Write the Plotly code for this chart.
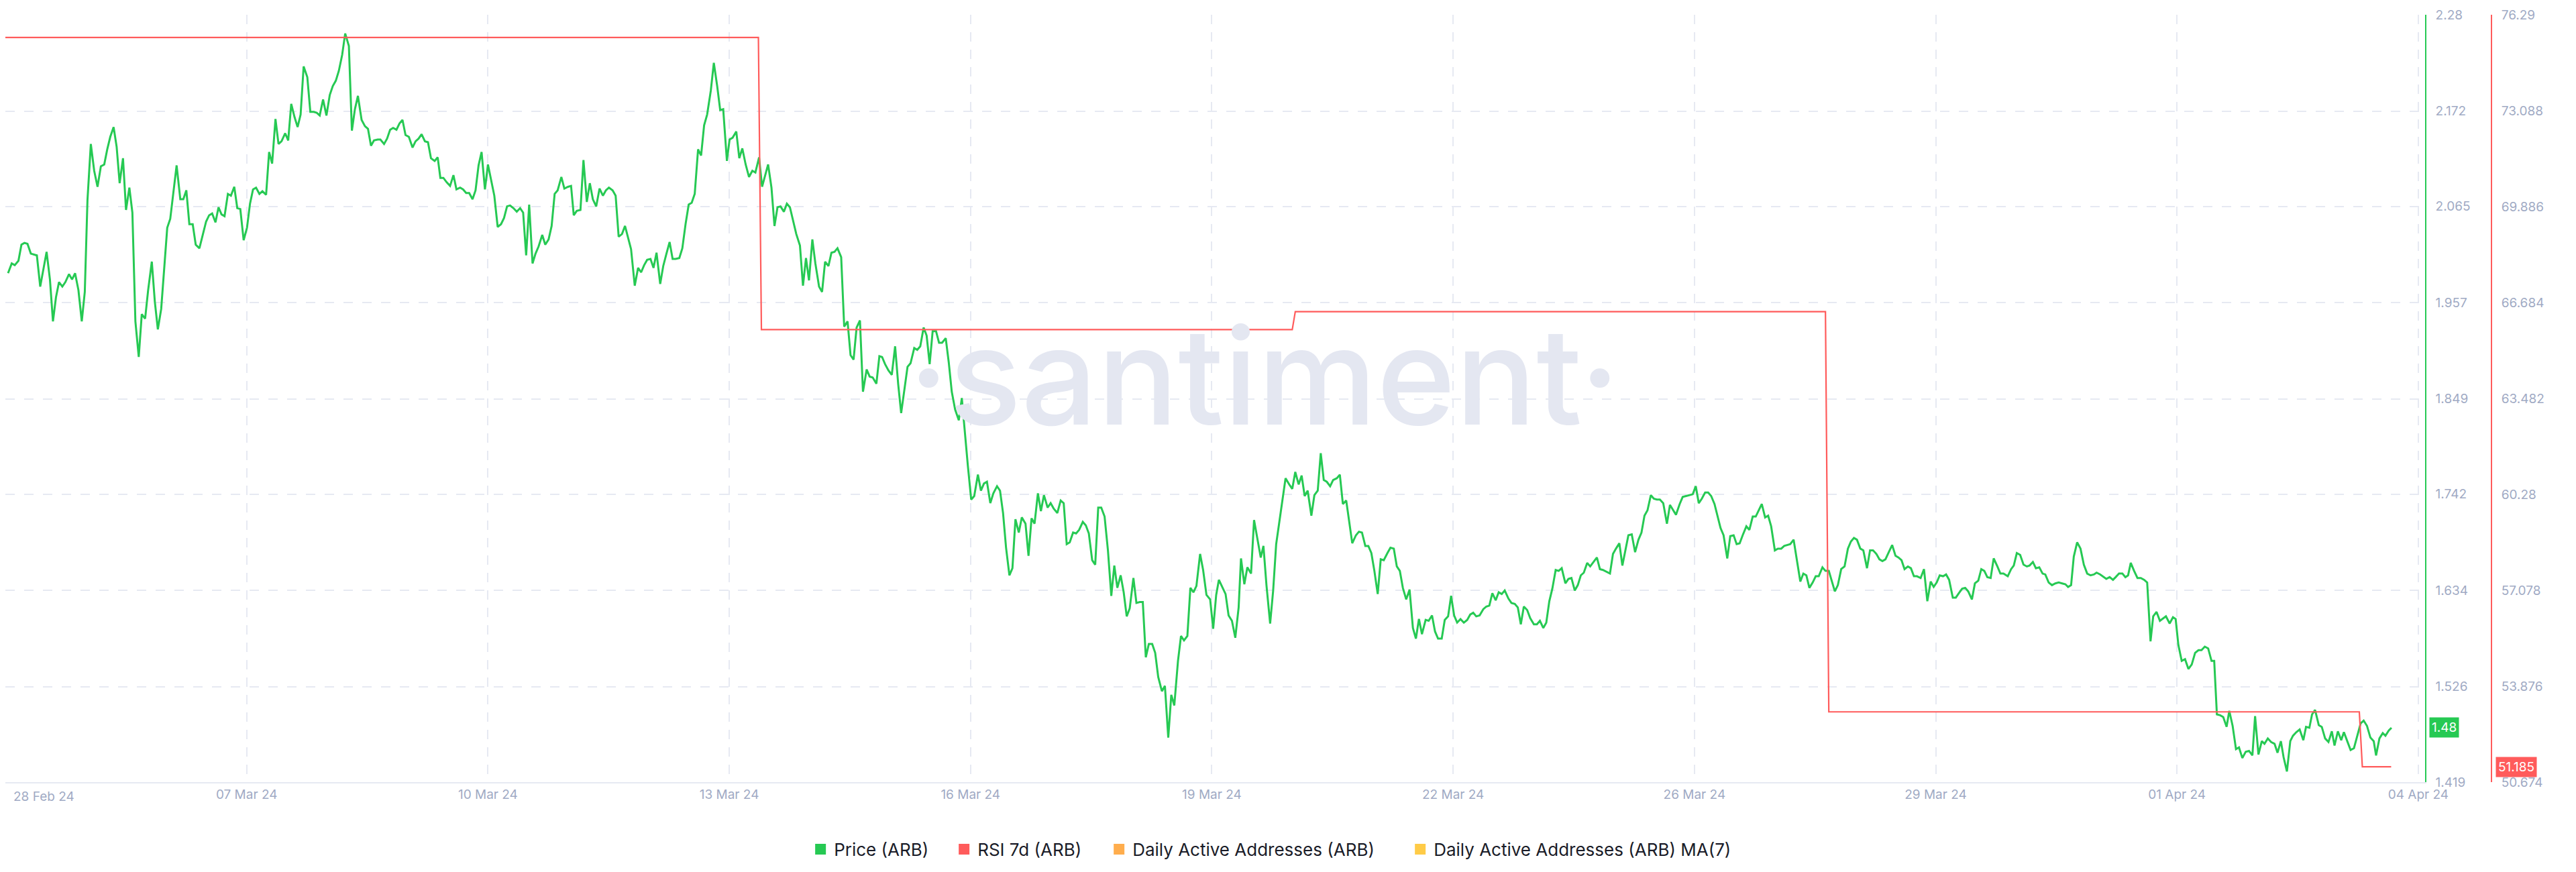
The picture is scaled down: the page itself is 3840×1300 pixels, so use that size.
import plotly.graph_objects as go

# ---------------- data ----------------
x_tick_hours = [0, 72, 144, 216, 288, 360, 432, 504, 576, 648, 720]
x_tick_labels = ["28 Feb 24", "07 Mar 24", "10 Mar 24", "13 Mar 24", "16 Mar 24", "19 Mar 24",
                 "22 Mar 24", "26 Mar 24", "29 Mar 24", "01 Apr 24", "04 Apr 24"]

price_ticks = [2.28, 2.172, 2.065, 1.957, 1.849, 1.742, 1.634, 1.526, 1.419]
rsi_ticks = [76.29, 73.088, 69.886, 66.684, 63.482, 60.28, 57.078, 53.876, 50.674]

price_hours = [
    0.8, 1.9, 2.8, 3.9, 4.8, 5.7, 6.6, 7.6, 9.4, 10.4, 12.3, 13.3, 14.2, 15.1, 16.0, 17.0, 17.9, 19.0, 19.9, 20.8,
    21.8, 22.8, 23.7, 24.5, 25.5, 26.5, 27.5, 28.5, 29.5, 30.4, 31.3, 32.3, 33.2, 34.1, 35.1, 36.0, 37.0, 37.9, 38.8, 39.8,
    40.7, 41.7, 42.6, 43.7, 44.6, 45.5, 46.5, 47.4, 48.3, 49.2, 50.2, 51.1, 52.2, 53.1, 54.0, 54.9, 55.9, 56.8, 57.9, 58.8,
    59.9, 60.8, 61.7, 62.7, 63.6, 64.5, 65.4, 66.4, 67.3, 68.3, 69.2, 70.1, 71.1, 72.1, 73.0, 73.9, 74.8, 75.8, 76.7, 77.8,
    78.7, 79.6, 80.6, 81.5, 82.4, 83.5, 84.4, 85.3, 86.3, 87.2, 88.1, 89.0, 90.1, 91.0, 92.0, 92.9, 93.8, 94.8, 95.8, 96.8,
    97.7, 98.6, 99.5, 100.5, 101.4, 102.5, 103.4, 104.3, 105.2, 106.3, 107.3, 108.2, 109.1, 110.0, 111.1, 111.9, 113.0,
    113.9, 114.8, 115.7, 116.7, 117.6, 118.5, 119.4, 120.4,
    121.5, 122.4, 123.3, 124.2, 125.2, 126.1, 127.0, 128.1, 129.0, 129.8, 130.7, 131.7, 132.7, 133.7, 134.6, 135.7,
    136.6, 137.5, 138.4, 139.4, 140.3, 141.2, 142.1, 143.1, 144.0, 144.9, 145.9, 146.9, 147.9, 148.8, 149.7, 150.6,
    151.6, 152.6, 153.6, 154.5, 155.4, 156.3, 157.3, 158.2, 159.1, 160.2, 161.1, 162.1, 163.0, 163.9, 164.8, 165.9,
    166.8, 167.9, 168.8, 169.6, 170.5, 171.6, 172.5, 173.5, 174.4, 175.3, 176.3, 177.3, 178.3, 179.2, 180.1, 181.2,
    182.1, 183.0, 184.0, 184.9, 185.8, 186.7, 187.8, 188.8, 189.7, 190.6, 191.5, 192.5, 193.4, 194.3, 195.4, 196.3,
    197.2, 198.2, 199.1, 200.0, 201.1, 202.0, 203.0, 203.9, 204.8, 205.7, 206.7, 207.6, 208.5, 209.4, 210.5, 211.4,
    212.4, 213.3, 214.2, 215.3, 216.1, 217.0, 218.1, 219.0, 219.9, 220.9, 221.9, 222.9, 223.8, 224.9, 225.8, 226.7,
    227.6, 228.6, 229.5, 230.4, 231.3, 232.3, 233.2, 234.1, 235.0, 236.0, 237.1, 238.0, 238.9, 239.8,
    240.8, 241.7, 242.8, 243.7, 244.6, 245.6, 246.5, 247.4, 248.3, 249.4, 250.3, 251.3, 252.2, 253.1, 254.0, 255.0,
    255.9, 257.0, 257.9, 258.8, 259.9, 260.8, 261.6, 262.5, 263.5, 264.5, 265.5, 266.4, 267.3, 268.2, 269.2, 270.1,
    271.2, 272.1, 273.0, 274.0, 274.9, 275.8, 276.7, 277.7, 278.6, 279.5, 280.6, 281.5, 282.4, 283.4, 284.5, 285.4,
    286.3, 287.2, 288.2, 289.1, 290.2, 291.1, 292.0, 292.9, 293.9, 294.8, 295.9, 296.8, 297.7, 298.6, 299.6, 300.5,
    301.4, 302.4, 303.3, 304.4, 305.3, 306.2, 307.1, 308.1, 309.0, 309.9, 311.0, 311.9, 312.8, 313.9, 314.9, 315.8,
    316.7, 317.6, 318.6, 319.5, 320.4, 321.5, 322.4, 323.3, 324.3, 325.2, 326.1, 327.0, 328.0, 329.0, 330.0, 330.9,
    331.8, 332.8, 333.7, 334.6, 335.5, 336.6, 337.5, 338.5, 339.4, 340.3, 341.2, 342.2, 343.1, 344.0, 345.1, 346.0,
    347.0, 347.9, 348.8, 349.9, 350.8, 351.7, 352.7, 353.6, 354.5, 355.4, 356.5, 357.4, 358.4,
    359.5, 360.4, 361.3, 362.1, 363.2, 364.1, 365.0, 366.0, 367.0, 368.0, 368.7, 369.7, 370.6, 371.7, 372.6, 373.5,
    374.6, 375.4, 376.3, 377.4, 378.3, 379.2, 380.1, 381.1, 382.0, 383.1, 384.0, 384.9, 385.9, 386.8, 387.7, 388.6,
    389.7, 390.6, 391.6, 392.5, 393.4, 394.3, 395.3, 396.2, 397.3, 398.2, 399.1, 400.1, 401.0, 401.9, 403.0, 403.9,
    404.8, 405.8, 406.7, 407.6, 408.5, 409.5, 410.4, 411.3, 412.4, 413.3, 414.3, 415.2, 416.1, 417.0, 418.0, 419.0,
    420.0, 420.9, 421.8, 422.7, 423.8, 424.7, 425.7, 426.6, 427.5, 428.6, 429.5, 430.5, 431.4, 432.3, 433.2, 434.2,
    435.2, 436.2, 437.1, 438.0, 438.9, 439.9, 441.0, 441.9, 442.8, 443.7, 444.7, 445.6, 446.5, 447.4, 448.5, 449.4,
    450.4, 451.3, 452.2, 453.1, 454.1, 455.0, 456.1, 457.0, 457.9, 458.9, 459.8, 460.7, 461.6, 462.6, 463.5, 464.4,
    465.5, 466.4, 467.3, 468.3, 469.2, 470.1, 471.0, 472.0, 472.9, 474.0, 474.9, 475.8, 476.7,
    478.8, 479.7, 480.6, 481.6, 482.5, 483.4, 484.3, 485.3, 486.3, 487.3, 488.2, 489.1, 490.0, 491.0, 491.9, 492.8,
    493.7, 494.7, 495.8, 496.7, 497.6, 498.5, 499.6, 500.5, 501.5, 502.5, 503.5, 504.4, 505.3, 506.2, 507.2, 508.1,
    509.0, 510.0, 510.9, 511.8, 512.7, 513.8, 514.7, 515.7, 516.6, 517.5, 518.4, 519.5, 520.4, 521.4, 522.3, 523.2,
    524.1, 525.1, 526.0, 526.9, 528.0, 528.9, 529.9, 530.8, 531.7, 532.6, 533.6, 534.5, 535.6, 536.5, 537.4, 538.3,
    539.3, 540.2, 541.1, 542.2, 543.1, 544.1, 545.0, 545.9, 546.8, 547.8, 548.8, 549.8, 550.7, 551.6, 552.5, 553.5,
    554.4, 555.5, 556.4, 557.3, 558.3, 559.2, 560.1, 561.0, 562.0, 563.0, 564.0, 564.9, 565.8, 566.7, 567.7, 568.6,
    569.5, 570.4, 571.5, 572.5, 573.5, 574.5, 575.4, 576.3, 577.2, 578.2, 579.1, 580.0, 581.1, 582.0, 582.9, 583.9,
    584.8, 585.7, 586.8, 587.7, 588.7, 589.6, 590.5, 591.4, 592.4, 593.3, 594.4, 595.3, 596.2,
    597.5, 598.5, 599.3, 600.2, 601.2, 602.2, 603.2, 604.0, 605.0, 605.9, 606.9, 607.9, 608.7, 609.7, 610.7, 611.7,
    612.7, 613.7, 614.7, 615.5, 616.4, 617.2, 618.2, 619.2, 620.2, 621.2, 622.2, 623.2, 624.0, 625.1, 626.1, 626.9,
    627.9, 628.9, 629.7, 630.7, 631.7, 632.6, 633.4, 634.2, 635.2, 636.2, 637.2, 638.2, 639.1, 640.1, 640.9, 641.9,
    642.9, 643.9, 644.7, 645.8, 646.8, 647.6, 648.4, 649.4, 650.4, 651.4, 652.4, 653.4, 654.4, 655.3, 656.3, 657.3,
    658.3, 659.1, 659.9, 660.9, 661.8, 662.8, 663.6, 664.6, 665.6, 666.5, 667.5, 668.5, 669.5, 670.5, 671.3, 672.3,
    673.3, 674.1, 675.1, 676.1, 677.1, 678.0, 679.0, 679.8, 680.8, 681.8, 682.6, 683.6, 684.6, 685.7, 686.5, 687.5,
    688.3, 689.2, 690.3, 691.2, 692.2, 693.2, 694.2, 695.0, 696.0, 697.0, 697.8, 698.8, 699.8, 700.8, 701.8, 702.8,
    703.7, 704.7, 705.7, 706.7, 707.4, 708.4, 709.4, 710.2, 711.2, 712.0,
]

price_values = [
    1.990, 2.001, 1.999, 2.004, 2.022, 2.024, 2.023, 2.012, 2.010, 1.975, 2.014, 1.983, 1.936, 1.963, 1.980, 1.975,
    1.980, 1.989, 1.983, 1.990, 1.971, 1.936, 1.969, 2.072, 2.135, 2.105, 2.087, 2.110, 2.112, 2.129, 2.143, 2.154,
    2.132, 2.091, 2.119, 2.061, 2.086, 2.058, 1.936, 1.896, 1.944, 1.939, 1.971, 2.003, 1.958, 1.927, 1.950, 1.997,
    2.041, 2.051, 2.081, 2.111, 2.073, 2.073, 2.083, 2.045, 2.045, 2.022, 2.018, 2.032, 2.048, 2.055, 2.057, 2.047,
    2.064, 2.056, 2.054, 2.079, 2.077, 2.087, 2.063, 2.062, 2.027, 2.041, 2.068, 2.084, 2.086, 2.079, 2.082, 2.078,
    2.126, 2.113, 2.163, 2.135, 2.138, 2.147, 2.139, 2.180, 2.165, 2.154, 2.168, 2.222, 2.210, 2.171, 2.171, 2.170,
    2.167, 2.185, 2.167, 2.190, 2.200, 2.206, 2.217, 2.235, 2.259, 2.245, 2.150, 2.174, 2.189, 2.162, 2.155, 2.152,
    2.133, 2.139, 2.140, 2.140, 2.135, 2.141, 2.151, 2.153, 2.151, 2.158, 2.162, 2.145, 2.143,
    2.131, 2.138, 2.141, 2.146, 2.138, 2.137, 2.119, 2.116, 2.120, 2.097, 2.097, 2.092, 2.088, 2.100, 2.084, 2.086,
    2.084, 2.080, 2.080, 2.073, 2.083, 2.111, 2.126, 2.084, 2.112, 2.094, 2.077, 2.042, 2.045, 2.052, 2.065, 2.066,
    2.063, 2.059, 2.063, 2.058, 2.010, 2.067, 2.001, 2.012, 2.020, 2.033, 2.022, 2.028, 2.043, 2.079, 2.083, 2.098,
    2.085, 2.087, 2.088, 2.055, 2.060, 2.061, 2.117, 2.070, 2.091, 2.073, 2.065, 2.085, 2.077, 2.083, 2.086, 2.083,
    2.077, 2.031, 2.034, 2.043, 2.030, 2.017, 1.976, 1.996, 1.991, 1.999, 2.005, 2.006, 1.996, 2.013, 1.978, 1.998,
    2.011, 2.025, 2.006, 2.006, 2.007, 2.018, 2.046, 2.067, 2.069, 2.079, 2.129, 2.122, 2.156, 2.168, 2.195, 2.226,
    2.200, 2.173, 2.174, 2.116, 2.140, 2.142, 2.149, 2.119, 2.130, 2.112, 2.098, 2.105, 2.103, 2.120, 2.087, 2.100,
    2.112, 2.086, 2.043, 2.064, 2.065, 2.059, 2.068, 2.064, 2.049, 2.034, 2.021, 1.976, 2.007, 1.982,
    2.028, 2.001, 1.975, 1.969, 2.003, 1.998, 2.013, 2.014, 2.018, 2.008, 1.930, 1.936, 1.898, 1.893, 1.929, 1.937,
    1.857, 1.882, 1.874, 1.873, 1.866, 1.897, 1.896, 1.888, 1.881, 1.876, 1.908, 1.866, 1.833, 1.856, 1.885, 1.889,
    1.906, 1.904, 1.908, 1.929, 1.920, 1.888, 1.925, 1.925, 1.912, 1.912, 1.917, 1.890, 1.857, 1.837, 1.825, 1.850,
    1.811, 1.774, 1.736, 1.740, 1.764, 1.746, 1.754, 1.756, 1.732, 1.743, 1.751, 1.746, 1.721, 1.682, 1.651, 1.659,
    1.714, 1.699, 1.716, 1.709, 1.673, 1.715, 1.709, 1.743, 1.723, 1.741, 1.727, 1.732, 1.726, 1.721, 1.735, 1.732,
    1.686, 1.688, 1.699, 1.698, 1.702, 1.711, 1.707, 1.698, 1.668, 1.663, 1.727, 1.727, 1.717, 1.679, 1.628, 1.662,
    1.637, 1.651, 1.632, 1.605, 1.614, 1.648, 1.620, 1.621, 1.621, 1.559, 1.574, 1.574, 1.564, 1.537, 1.521, 1.527,
    1.469, 1.517, 1.505, 1.555, 1.583, 1.578, 1.583, 1.637, 1.632, 1.639, 1.675, 1.657, 1.629,
    1.624, 1.591, 1.629, 1.646, 1.637, 1.630, 1.606, 1.600, 1.581, 1.615, 1.670, 1.641, 1.660, 1.653, 1.713, 1.693,
    1.671, 1.684, 1.640, 1.597, 1.634, 1.686, 1.709, 1.738, 1.760, 1.753, 1.748, 1.767, 1.753, 1.763, 1.740, 1.746,
    1.718, 1.741, 1.746, 1.788, 1.758, 1.756, 1.751, 1.758, 1.760, 1.764, 1.731, 1.735, 1.710, 1.687, 1.696, 1.700,
    1.699, 1.684, 1.684, 1.676, 1.656, 1.630, 1.669, 1.668, 1.676, 1.682, 1.681, 1.661, 1.656, 1.637, 1.624, 1.635,
    1.592, 1.580, 1.602, 1.585, 1.601, 1.600, 1.606, 1.588, 1.580, 1.580, 1.601, 1.605, 1.628, 1.606, 1.598, 1.602,
    1.598, 1.601, 1.607, 1.609, 1.605, 1.606, 1.613, 1.616, 1.617, 1.631, 1.623, 1.632, 1.630, 1.634, 1.625, 1.620,
    1.619, 1.615, 1.596, 1.616, 1.612, 1.603, 1.596, 1.596, 1.600, 1.592, 1.598, 1.622, 1.636, 1.657, 1.656, 1.659,
    1.642, 1.647, 1.648, 1.634, 1.640, 1.651, 1.654, 1.665, 1.661, 1.667, 1.671, 1.658, 1.657,
    1.653, 1.675, 1.681, 1.687, 1.662, 1.679, 1.696, 1.697, 1.677, 1.691, 1.699, 1.718, 1.724, 1.741, 1.737, 1.736,
    1.736, 1.732, 1.709, 1.730, 1.724, 1.719, 1.731, 1.739, 1.740, 1.741, 1.742, 1.751, 1.732, 1.737, 1.744, 1.744,
    1.740, 1.731, 1.717, 1.704, 1.696, 1.670, 1.695, 1.696, 1.686, 1.687, 1.696, 1.706, 1.702, 1.717, 1.717, 1.724,
    1.731, 1.716, 1.718, 1.706, 1.679, 1.681, 1.681, 1.684, 1.685, 1.686, 1.691, 1.669, 1.644, 1.653, 1.651, 1.637,
    1.643, 1.650, 1.650, 1.660, 1.656, 1.656, 1.644, 1.633, 1.640, 1.658, 1.661, 1.681, 1.689, 1.693, 1.691, 1.681,
    1.679, 1.659, 1.679, 1.679, 1.675, 1.669, 1.667, 1.669, 1.677, 1.685, 1.673, 1.671, 1.668, 1.658, 1.661, 1.659,
    1.650, 1.650, 1.648, 1.658, 1.622, 1.644, 1.638, 1.643, 1.651, 1.650, 1.652, 1.646, 1.626, 1.626, 1.631, 1.636,
    1.637, 1.633, 1.624, 1.642, 1.645, 1.658, 1.656, 1.649, 1.648, 1.670, 1.661, 1.653, 1.653,
    1.650, 1.658, 1.662, 1.676, 1.674, 1.663, 1.661, 1.662, 1.666, 1.659, 1.660, 1.653, 1.652, 1.643, 1.640, 1.642,
    1.643, 1.642, 1.641, 1.638, 1.640, 1.672, 1.688, 1.681, 1.663, 1.653, 1.651, 1.652, 1.654, 1.652, 1.649, 1.647,
    1.649, 1.646, 1.649, 1.653, 1.653, 1.649, 1.651, 1.665, 1.656, 1.648, 1.648, 1.646, 1.643, 1.577, 1.605, 1.610,
    1.600, 1.603, 1.605, 1.597, 1.604, 1.602, 1.573, 1.555, 1.557, 1.546, 1.551, 1.564, 1.567, 1.567, 1.571, 1.569,
    1.555, 1.555, 1.495, 1.494, 1.492, 1.481, 1.499, 1.482, 1.456, 1.458, 1.446, 1.453, 1.454, 1.449, 1.493, 1.450,
    1.465, 1.462, 1.468, 1.464, 1.462, 1.452, 1.465, 1.447, 1.431, 1.465, 1.471, 1.475, 1.478, 1.466, 1.481, 1.480,
    1.495, 1.500, 1.483, 1.481, 1.468, 1.464, 1.476, 1.460, 1.476, 1.466, 1.475, 1.465, 1.455, 1.457, 1.472, 1.485,
    1.488, 1.482, 1.469, 1.465, 1.449, 1.468, 1.474, 1.471, 1.477, 1.480,
]

rsi_hours = [0, 224.7, 225.6, 384.0, 384.9, 543.1, 544.1, 702.4, 703.3, 711.9]
rsi_values = [75.53, 75.53, 65.78, 65.78, 66.38, 66.38, 53.02, 53.02, 51.185, 51.185]

legend_names = ["Price (ARB)", "RSI 7d (ARB)", "Daily Active Addresses (ARB)", "Daily Active Addresses (ARB) MA(7)"]

assert len(price_hours) == len(price_values), (len(price_hours), len(price_values))

# ---------------- style ----------------
GREEN = "#26c953"
RED = "#ff5b5b"
ORANGE = "#ffad4d"
YELLOW = "#ffcb47"
legend_colors = [GREEN, RED, ORANGE, YELLOW]
legend_entry_widths = [169, 186, 404, 462]
GRID = "#e6e9f2"
TICK = "#9faac4"
FONT = "Inter"
W, H = 3840, 1300
PLOT_RIGHT = 3640
RSI_AXIS = 3740
TOP, BOTTOM = 14, 1158

fig = go.Figure()
fig.add_trace(go.Scatter(x=price_hours, y=price_values, mode="lines",
                         line=dict(color=GREEN, width=3), showlegend=False,
                         hoverinfo="skip", yaxis="y"))
fig.add_trace(go.Scatter(x=rsi_hours, y=rsi_values, mode="lines",
                         line=dict(color=RED, width=2.2), showlegend=False,
                         hoverinfo="skip", yaxis="y2"))
for name, col, lw in zip(legend_names, legend_colors, legend_entry_widths):
    fig.add_trace(go.Scatter(x=[None], y=[None], mode="markers", name=name, legendwidth=lw,
                             marker=dict(symbol="square", size=16, color=col)))

xr = [0, x_tick_hours[-1] * PLOT_RIGHT / 3630]

fig.update_layout(
    width=W, height=H,
    margin=dict(l=0, r=0, t=TOP, b=H - BOTTOM, pad=0),
    paper_bgcolor="white", plot_bgcolor="white",
    font=dict(family=FONT, color=TICK, size=19),
    xaxis=dict(domain=[0, PLOT_RIGHT / W], range=xr, tickvals=x_tick_hours,
               ticktext=[""] + x_tick_labels[1:], showgrid=True, gridcolor=GRID,
               gridwidth=2, griddash="14px,12px", zeroline=False, showline=True,
               linecolor=GRID, linewidth=2, ticks="", tickfont=dict(size=19, color=TICK),
               ticklabelstandoff=0),
    yaxis=dict(range=[price_ticks[-1], price_ticks[0]], tickvals=price_ticks,
               ticktext=[f"{v:g}" for v in price_ticks], side="right", anchor="x",
               showgrid=True, gridcolor=GRID, gridwidth=2, griddash="14px,14px",
               zeroline=False, showline=True, linecolor=GREEN, linewidth=2,
               ticks="", tickfont=dict(size=19, color=TICK), ticklabelstandoff=10),
    yaxis2=dict(range=[rsi_ticks[-1], rsi_ticks[0]], tickvals=rsi_ticks,
                ticktext=[f"{v:g}" for v in rsi_ticks], side="right", overlaying="y",
                anchor="free", position=RSI_AXIS / W, showgrid=False, zeroline=False,
                showline=True, linecolor=RED, linewidth=2, ticks="",
                tickfont=dict(size=19, color=TICK), ticklabelstandoff=10),
    legend=dict(orientation="h", x=0.4982, xanchor="center", y=(BOTTOM - 1258) / (BOTTOM - TOP),
                yanchor="middle", font=dict(size=26, color="#1a1c28", family=FONT),
                bgcolor="rgba(0,0,0,0)", itemclick=False, tracegroupgap=0),
    hovermode=False,
)

# watermark
fig.add_annotation(text="·santiment·", xref="paper", yref="paper",
                   x=1894 / W, y=0.53, xanchor="center", yanchor="middle",
                   showarrow=False, font=dict(size=200, color="#e4e7f1", family=FONT, weight=500))

# first x label (left aligned at the left edge)
fig.add_annotation(text=x_tick_labels[0], xref="paper", yref="paper",
                   x=10 / W, y=(BOTTOM - 1179) / (BOTTOM - TOP), xanchor="left",
                   yanchor="middle", showarrow=False, font=dict(size=19, color=TICK, family=FONT))

# last-value badges
fig.add_annotation(text=f"{price_values[-1]:.2f}", xref="paper", yref="y",
                   x=(PLOT_RIGHT + 6) / W, y=price_values[-1], xanchor="left",
                   yanchor="middle", showarrow=False, bgcolor=GREEN, borderpad=3,
                   font=dict(size=19, color="white", family=FONT))
fig.add_annotation(text=f"{rsi_values[-1]:g}", xref="paper", yref="y2",
                   x=(RSI_AXIS + 6) / W, y=rsi_values[-1], xanchor="left",
                   yanchor="middle", showarrow=False, bgcolor=RED, borderpad=3,
                   font=dict(size=19, color="white", family=FONT))

fig.write_html("out.html")
